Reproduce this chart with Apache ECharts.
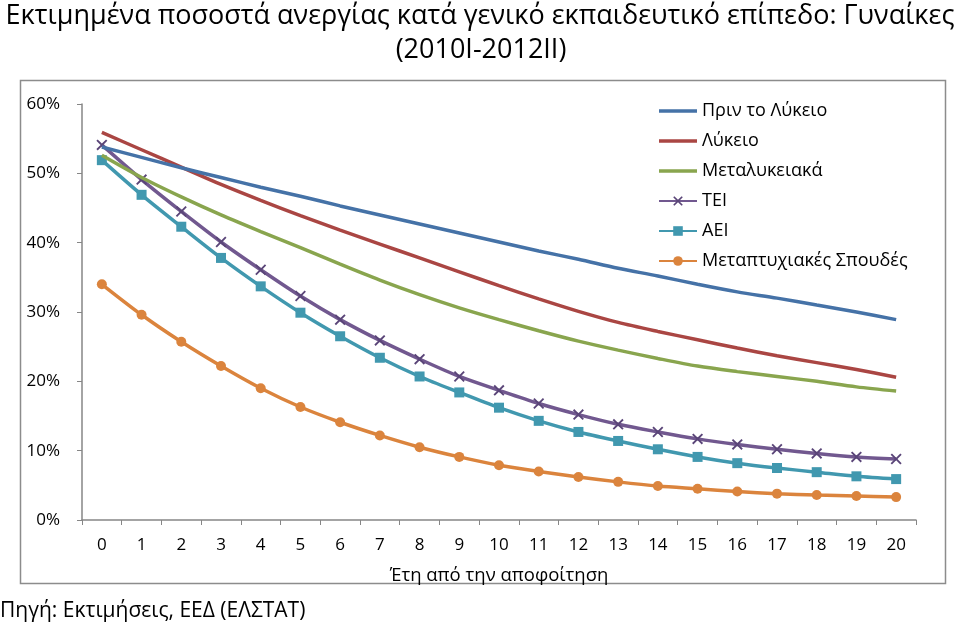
<!DOCTYPE html>
<html><head><meta charset="utf-8">
<script src="https://cdn.jsdelivr.net/npm/echarts@6/dist/echarts.min.js"></script>
<style>html,body{margin:0;padding:0;background:#fff}#c{width:960px;height:626px}</style>
</head><body><div id="c"></div>
<script>
const years = ['0','1','2','3','4','5','6','7','8','9','10','11','12','13','14','15','16','17','18','19','20'];
const seriesNames = ['Πριν το Λύκειο','Λύκειο','Μεταλυκειακά','ΤΕΙ','ΑΕΙ','Μεταπτυχιακές Σπουδές'];
const beforeLyceum = [53.8,52.3,50.8,49.4,48.0,46.7,45.3,44.0,42.7,41.4,40.1,38.8,37.6,36.3,35.2,34.0,32.9,32.0,31.0,30.0,28.9];
const lyceum = [55.9,53.4,50.9,48.4,46.1,43.9,41.8,39.8,37.8,35.8,33.8,31.9,30.1,28.5,27.2,26.0,24.8,23.7,22.7,21.7,20.6];
const postLyceum = [52.6,49.4,46.6,44.0,41.6,39.3,36.9,34.6,32.5,30.6,28.9,27.3,25.8,24.5,23.3,22.2,21.4,20.7,20.0,19.2,18.6];
const tei = [54.1,49.1,44.5,40.1,36.1,32.3,28.9,25.9,23.2,20.7,18.7,16.8,15.2,13.8,12.7,11.7,10.9,10.2,9.6,9.1,8.8];
const aei = [51.9,46.9,42.3,37.8,33.7,29.9,26.5,23.4,20.7,18.4,16.2,14.3,12.7,11.4,10.2,9.1,8.2,7.5,6.9,6.3,5.9];
const postgrad = [34.0,29.6,25.7,22.2,19.0,16.3,14.1,12.2,10.5,9.1,7.9,7.0,6.2,5.5,4.9,4.5,4.1,3.8,3.6,3.45,3.3];
const yTicks = [0,10,20,30,40,50,60];

const FONT = 'Open Sans';
const colors = ['#4572A7','#AA4643','#89A54E','#71588F','#4198AF','#DB843D'];
const xPath = 'path://M0,1.2L1.2,0L5,3.8L8.8,0L10,1.2L6.2,5L10,8.8L8.8,10L5,6.2L1.2,10L0,8.8L3.8,5Z';
const linePath = 'path://M0,0h38v3.5h-38z';
const datasets = [beforeLyceum, lyceum, postLyceum, tei, aei, postgrad];
const symbols = ['none','none','none',xPath,'rect','circle'];
const symSizes = [0,0,0,11,10,10];

const chart = echarts.init(document.getElementById('c'), null, {renderer:'canvas'});
chart.setOption({
  animation:false,
  backgroundColor:'#fff',
  color: colors,
  graphic:[
    {type:'rect', shape:{x:20.5,y:80.5,width:925,height:503}, style:{fill:'none', stroke:'#8c8c8c', lineWidth:1.5}, z:-1},
    {type:'text', x:480, y:16, style:{text:'Εκτιμημένα ποσοστά ανεργίας κατά γενικό εκπαιδευτικό επίπεδο: Γυναίκες', fontFamily:FONT, fontSize:27, fill:'#000', align:'center', verticalAlign:'middle'}},
    {type:'text', x:481, y:50, style:{text:'(2010I-2012II)', fontFamily:FONT, fontSize:27, fill:'#000', align:'center', verticalAlign:'middle'}},
    {type:'text', x:0, y:611, style:{text:'Πηγή: Εκτιμήσεις, ΕΕΔ (ΕΛΣΤΑΤ)', fontFamily:FONT, fontSize:21, fill:'#000', align:'left', verticalAlign:'middle'}}
  ],
  legend:{
    orient:'vertical', left:658, top:101, padding:0,
    itemWidth:38, itemHeight:12, itemGap:10, itemTextGap:5,
    textStyle:{fontFamily:FONT, fontSize:18, color:'#000', lineHeight:20},
    data: seriesNames.map((n,i)=> i<3 ? {name:n, icon:linePath, itemStyle:{color:colors[i]}} : {name:n})
  },
  grid:{left:82, right:44, top:104, bottom:106},
  xAxis:{
    type:'category', data: years, boundaryGap:true,
    name:'Έτη από την αποφοίτηση', nameLocation:'middle', nameGap:46,
    nameTextStyle:{fontFamily:FONT, fontSize:18.5, color:'#000'},
    axisLine:{lineStyle:{color:'#868686', width:1.5}},
    axisTick:{show:true, length:5, alignWithLabel:false, lineStyle:{color:'#868686'}},
    axisLabel:{fontFamily:FONT, fontSize:17, color:'#000', margin:17, interval:0}
  },
  yAxis:{
    type:'value', min:0, max:60, interval:10,
    axisLine:{show:true, lineStyle:{color:'#868686', width:1.5}},
    axisTick:{show:true, length:5, lineStyle:{color:'#868686'}},
    splitLine:{show:false},
    axisLabel:{fontFamily:FONT, fontSize:17, color:'#000', margin:22, formatter:'{value}%'}
  },
  series: seriesNames.map((n,i)=>({
    name:n, type:'line', data: datasets[i], smooth:0.3,
    symbol: symbols[i], symbolSize: symSizes[i], showSymbol: symbols[i] !== 'none',
    lineStyle:{width:3.5, color:colors[i]},
    itemStyle:{color: i===3 ? '#5a4578' : colors[i]},
    z: 10 - i
  }))
});
</script></body></html>
